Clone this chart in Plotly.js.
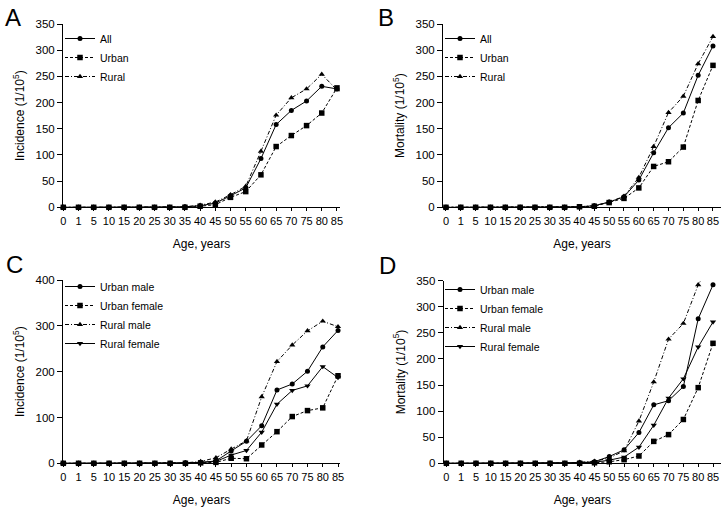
<!DOCTYPE html>
<html>
<head>
<meta charset="utf-8">
<script src="https://cdn.plot.ly/plotly-3.0.1.min.js"></script>
<style>html,body{margin:0;padding:0;background:#fff;}#chart{width:725px;height:510px;}</style>
</head>
<body>
<div id="chart"></div>
<script>
// Age groups (x categories)
const ages = ['0','1','5','10','15','20','25','30','35','40','45','50','55','60','65','70','75','80','85'];

// Panel A: Incidence (1/10^5)
const incAll   = [0,0,0,0,0,0,0,0,1,3,8,22,37,93,158,185,203,231,226];
const incUrban = [0,0,0,0,0,0,0,0,0,2,5,19,30,62,116,137,156,180,228];
const incRural = [0,0,0,0,0,0,0,0,1,4,10,24,40,107,176,209,226,254,224];

// Panel B: Mortality (1/10^5)
const morAll   = [0,0,0,0,0,0,0,0,0,1,3,10,20,52,104,152,180,252,308];
const morUrban = [0,0,0,0,0,0,0,0,0,1,2,9,17,37,78,87,115,204,271];
const morRural = [0,0,0,0,0,0,0,0,0,1,3,10,21,57,116,181,212,274,326];

// Panel C: Incidence by sex
const incUrbanMale   = [0,0,0,0,0,0,0,0,1,2,5,27,48,82,160,173,201,254,290];
const incUrbanFemale = [0,0,0,0,0,0,0,0,0,1,2,11,10,40,69,102,115,121,191];
const incRuralMale   = [0,0,0,0,0,0,0,0,1,4,12,31,49,145,222,258,289,310,298];
const incRuralFemale = [0,0,0,0,0,0,0,0,0,2,4,18,28,68,129,159,169,211,187];

// Panel D: Mortality by sex
const morUrbanMale   = [0,0,0,0,0,0,0,0,0,1,3,13,26,59,112,120,147,277,342];
const morUrbanFemale = [0,0,0,0,0,0,0,0,0,0,1,3,7,14,42,55,84,145,230];
const morRuralMale   = [0,0,0,0,0,0,0,0,0,2,4,10,24,81,156,238,268,342,390];
const morRuralFemale = [0,0,0,0,0,0,0,0,0,1,2,6,12,31,73,125,162,223,271];

const FONT = 'Liberation Sans, Arial, Helvetica, sans-serif';
const W = 725, H = 510;
const px = v => v / W;
const py = v => (H - v) / H;

const styles = {
  circSolid:  {line:{color:'#000',width:1,dash:'solid'}, marker:{symbol:'circle',size:5,color:'#000'}},
  sqDash:     {line:{color:'#000',width:1,dash:'3px,2px'}, marker:{symbol:'square',size:5.5,color:'#000'}},
  triDashDot: {line:{color:'#000',width:1,dash:'4px,2px,1px,2px'}, marker:{symbol:'triangle-up',size:5.5,color:'#000'}},
  triDownSolid:{line:{color:'#000',width:1,dash:'solid'}, marker:{symbol:'triangle-down',size:5.5,color:'#000'}}
};

function tr(name, y, st, xa, ya, lg, clip) {
  return Object.assign({
    type:'scatter', mode:'lines+markers', name:name, x:ages, y:y,
    xaxis:xa, yaxis:ya, legend:lg, cliponaxis: !!clip
  }, JSON.parse(JSON.stringify(styles[st])));
}

const data = [
  tr('All', incAll, 'circSolid', 'x', 'y', 'legend'),
  tr('Urban', incUrban, 'sqDash', 'x', 'y', 'legend'),
  tr('Rural', incRural, 'triDashDot', 'x', 'y', 'legend'),
  tr('All', morAll, 'circSolid', 'x2', 'y2', 'legend2'),
  tr('Urban', morUrban, 'sqDash', 'x2', 'y2', 'legend2'),
  tr('Rural', morRural, 'triDashDot', 'x2', 'y2', 'legend2'),
  tr('Urban male', incUrbanMale, 'circSolid', 'x3', 'y3', 'legend3'),
  tr('Urban female', incUrbanFemale, 'sqDash', 'x3', 'y3', 'legend3'),
  tr('Rural male', incRuralMale, 'triDashDot', 'x3', 'y3', 'legend3'),
  tr('Rural female', incRuralFemale, 'triDownSolid', 'x3', 'y3', 'legend3'),
  tr('Urban male', morUrbanMale, 'circSolid', 'x4', 'y4', 'legend4'),
  tr('Urban female', morUrbanFemale, 'sqDash', 'x4', 'y4', 'legend4'),
  tr('Rural male', morRuralMale, 'triDashDot', 'x4', 'y4', 'legend4', true),
  tr('Rural female', morRuralFemale, 'triDownSolid', 'x4', 'y4', 'legend4')
];

function xax(dom, anchor, rng) {
  return {
    domain: dom, anchor: anchor, type:'category', range: rng,
    showline:true, linecolor:'#000', linewidth:1, showgrid:false, zeroline:false,
    ticks:'outside', ticklen:3, tickcolor:'#000', tickwidth:1,
    tickfont:{family:FONT,size:11,color:'#000'}, automargin:false,
    title:{text:'Age, years', font:{family:FONT,size:12,color:'#000'}, standoff:14}
  };
}
function yax(dom, anchor, rng, dt, title) {
  return {
    domain: dom, anchor: anchor, range: rng, dtick: dt, tick0:0,
    showline:true, linecolor:'#000', linewidth:1, showgrid:false, zeroline:false,
    ticks:'outside', ticklen:5, tickcolor:'#000', tickwidth:1,
    tickfont:{family:FONT,size:11.5,color:'#000'}, automargin:false,
    title:{text:title, font:{family:FONT,size:12,color:'#000'}, standoff:8}
  };
}
function leg(x, ytop) {
  return {x:px(x), y:py(ytop), xanchor:'left', yanchor:'top', bgcolor:'rgba(0,0,0,0)',
    font:{family:FONT,size:10.5,color:'#000'}, tracegroupgap:0};
}

const incT = 'Incidence (1/10<sup>5</sup>)';
const morT = 'Mortality (1/10<sup>5</sup>)';

const layout = {
  width:W, height:H, margin:{l:0,r:0,t:0,b:0},
  paper_bgcolor:'#fff', plot_bgcolor:'#fff',
  font:{family:FONT,color:'#000'},
  showlegend:true,
  xaxis:  xax([px(63),  px(340)], 'y',  [-0.02, 18.2]),
  yaxis:  yax([py(207.3), py(24)], 'x', [0,350], 50, incT),
  xaxis2: xax([px(443), px(721)], 'y2', [-0.2, 18.54]),
  yaxis2: yax([py(207.3), py(24)], 'x2', [0,350], 50, morT),
  xaxis3: xax([px(63),  px(340)], 'y3', [-0.02, 18.13]),
  yaxis3: yax([py(463.3), py(280)], 'x3', [0,400], 100, incT),
  xaxis4: xax([px(443.7), px(721)], 'y4', [-0.18, 18.54]),
  yaxis4: yax([py(463.3), py(280.7)], 'x4', [0,350], 50, morT),
  legend:  leg(60, 24),
  legend2: leg(440, 24),
  legend3: leg(60, 272),
  legend4: leg(440, 275),
  annotations: [
    {text:'A', x:px(13), y:py(18), xref:'paper', yref:'paper', showarrow:false, xanchor:'center', yanchor:'middle', font:{family:FONT,size:24,color:'#000'}},
    {text:'B', x:px(386), y:py(18), xref:'paper', yref:'paper', showarrow:false, xanchor:'center', yanchor:'middle', font:{family:FONT,size:24,color:'#000'}},
    {text:'C', x:px(14), y:py(265), xref:'paper', yref:'paper', showarrow:false, xanchor:'center', yanchor:'middle', font:{family:FONT,size:24,color:'#000'}},
    {text:'D', x:px(387), y:py(266), xref:'paper', yref:'paper', showarrow:false, xanchor:'center', yanchor:'middle', font:{family:FONT,size:24,color:'#000'}}
  ]
};

Plotly.newPlot('chart', data, layout, {displayModeBar:false, staticPlot:true});
</script>
</body>
</html>
